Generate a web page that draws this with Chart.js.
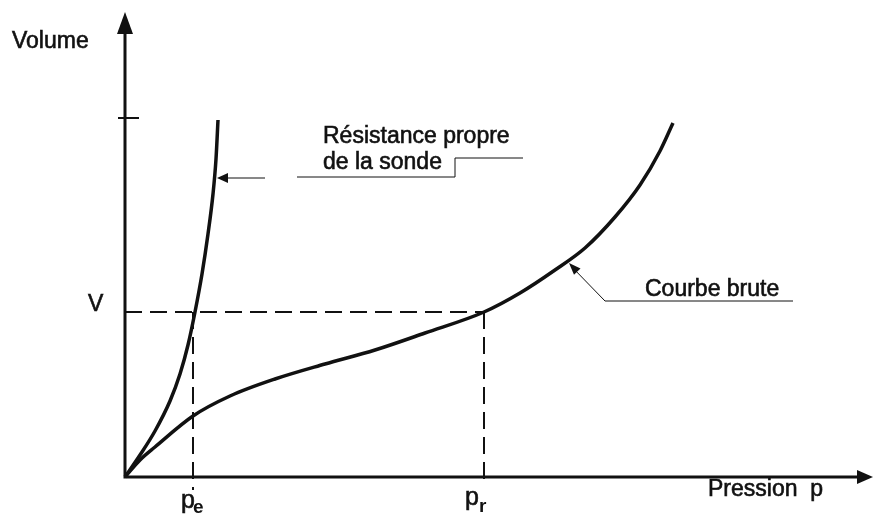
<!DOCTYPE html>
<html>
<head>
<meta charset="utf-8">
<script src="https://cdn.jsdelivr.net/npm/chart.js@4"></script>
<style>
  html, body { margin: 0; padding: 0; background: #fff; }
  #chart { display: block; }
</style>
</head>
<body>
<canvas id="chart" width="874" height="515"></canvas>
<script>
// courbe "Résistance propre de la sonde"
var sondeP = [0, 15, 30, 45, 55, 63, 70, 77, 83, 88, 91, 93];
var sondeV = [0, 22, 46, 76, 103, 132, 165, 203, 243, 283, 318, 357];

// courbe brute
var bruteP = [0, 15, 30, 68, 105, 150, 200, 250, 300, 359, 395, 430, 460, 490, 515, 535, 548];
var bruteV = [0, 17, 30, 61, 81, 98, 113, 127, 144, 165, 184, 207, 229, 260, 292, 326, 354];

// valeurs repérées
var pE = 68;
var pR = 359;
var vRef = 165;
var vTick = 359;

var INK = '#111';
var FONT = '"Liberation Sans", Arial, sans-serif';

function toPts(xs, ys) {
  return xs.map(function (x, i) { return { x: x, y: ys[i] }; });
}

function arrowHead(ctx, tx, ty, fx, fy, len, half) {
  var a = Math.atan2(ty - fy, tx - fx);
  ctx.beginPath();
  ctx.moveTo(tx, ty);
  ctx.lineTo(tx - len * Math.cos(a) + half * Math.sin(a), ty - len * Math.sin(a) - half * Math.cos(a));
  ctx.lineTo(tx - len * Math.cos(a) - half * Math.sin(a), ty - len * Math.sin(a) + half * Math.cos(a));
  ctx.closePath();
  ctx.fill();
}

// texte un peu épaissi, comme sur le document scanné
function label(ctx, txt, x, y) {
  ctx.fillText(txt, x, y);
  ctx.strokeText(txt, x, y);
}

var drawing = {
  id: 'drawing',
  afterDatasetsDraw: function (chart) {
    var ctx = chart.ctx;
    var xs = chart.scales.x, ys = chart.scales.y;
    var X = function (v) { return xs.getPixelForValue(v); };
    var Y = function (v) { return ys.getPixelForValue(v); };
    ctx.save();
    ctx.strokeStyle = INK;
    ctx.fillStyle = INK;
    ctx.lineCap = 'butt';

    // axes
    ctx.lineWidth = 3;
    ctx.beginPath();
    ctx.moveTo(X(0), Y(0));
    ctx.lineTo(X(0), Y(445));
    ctx.moveTo(X(0) - 1.5, Y(0));
    ctx.lineTo(X(733), Y(0));
    ctx.stroke();
    arrowHead(ctx, X(0), Y(465), X(0), Y(0), 22, 8);
    arrowHead(ctx, X(748), Y(0), X(0), Y(0), 16, 7);

    // graduation
    ctx.lineWidth = 2;
    ctx.beginPath();
    ctx.moveTo(X(-7), Y(vTick));
    ctx.lineTo(X(14), Y(vTick));
    ctx.stroke();

    // renvoi "Résistance propre de la sonde"
    ctx.lineWidth = 1;
    ctx.beginPath();
    ctx.moveTo(X(95), Y(299));
    ctx.lineTo(X(140), Y(299));
    ctx.moveTo(X(172), Y(300));
    ctx.lineTo(X(330), Y(300));
    ctx.lineTo(X(330), Y(319));
    ctx.lineTo(X(398), Y(319));
    ctx.stroke();
    arrowHead(ctx, X(92), Y(299), X(140), Y(299), 11, 5);

    // renvoi "Courbe brute"
    ctx.beginPath();
    ctx.moveTo(X(668), Y(176));
    ctx.lineTo(X(480), Y(176));
    ctx.lineTo(X(446), Y(211));
    ctx.stroke();
    arrowHead(ctx, X(444), Y(214), X(480), Y(176), 12, 4.5);

    // textes
    ctx.textBaseline = 'middle';
    ctx.textAlign = 'left';
    ctx.lineWidth = 0.6;
    ctx.font = '23px ' + FONT;
    label(ctx, 'Volume', X(-113), Y(435));
    label(ctx, 'V', X(-37), Y(172));
    label(ctx, 'Résistance propre', X(198), Y(340));
    label(ctx, 'de la sonde', X(198), Y(314));
    label(ctx, 'Courbe brute', X(520), Y(187));
    label(ctx, 'Pression  p', X(583), Y(-13));

    ctx.font = '25px ' + FONT;
    label(ctx, 'p', X(56), Y(-24));
    label(ctx, 'p', X(340), Y(-21));
    ctx.font = 'bold 19px ' + FONT;
    ctx.fillText('e', X(68), Y(-31));
    ctx.fillText('r', X(354), Y(-30));
    ctx.restore();
  }
};

var dash = [17, 8];

new Chart(document.getElementById('chart').getContext('2d'), {
  type: 'scatter',
  data: {
    datasets: [
      {
        label: 'Résistance propre de la sonde',
        data: toPts(sondeP, sondeV),
        showLine: true,
        borderColor: INK,
        borderWidth: 3.5,
        cubicInterpolationMode: 'monotone',
        pointRadius: 0
      },
      {
        label: 'Courbe brute',
        data: toPts(bruteP, bruteV),
        showLine: true,
        borderColor: INK,
        borderWidth: 3.5,
        cubicInterpolationMode: 'monotone',
        pointRadius: 0
      },
      {
        label: 'V',
        data: [{ x: 0, y: vRef }, { x: pR, y: vRef }],
        showLine: true,
        borderColor: INK,
        borderWidth: 2,
        borderDash: dash,
        pointRadius: 0
      },
      {
        label: 'pe',
        data: [{ x: pE, y: vRef }, { x: pE, y: -13 }],
        showLine: true,
        borderColor: INK,
        borderWidth: 2,
        borderDash: dash,
        pointRadius: 0
      },
      {
        label: 'pr',
        data: [{ x: pR, y: vRef }, { x: pR, y: -8 }],
        showLine: true,
        borderColor: INK,
        borderWidth: 2,
        borderDash: dash,
        pointRadius: 0
      }
    ]
  },
  options: {
    responsive: false,
    animation: false,
    layout: { padding: 0 },
    scales: {
      x: { type: 'linear', min: -125, max: 749, display: false },
      y: { type: 'linear', min: -38, max: 477, display: false }
    },
    plugins: {
      legend: { display: false },
      tooltip: { enabled: false }
    }
  },
  plugins: [drawing]
});
</script>
</body>
</html>
